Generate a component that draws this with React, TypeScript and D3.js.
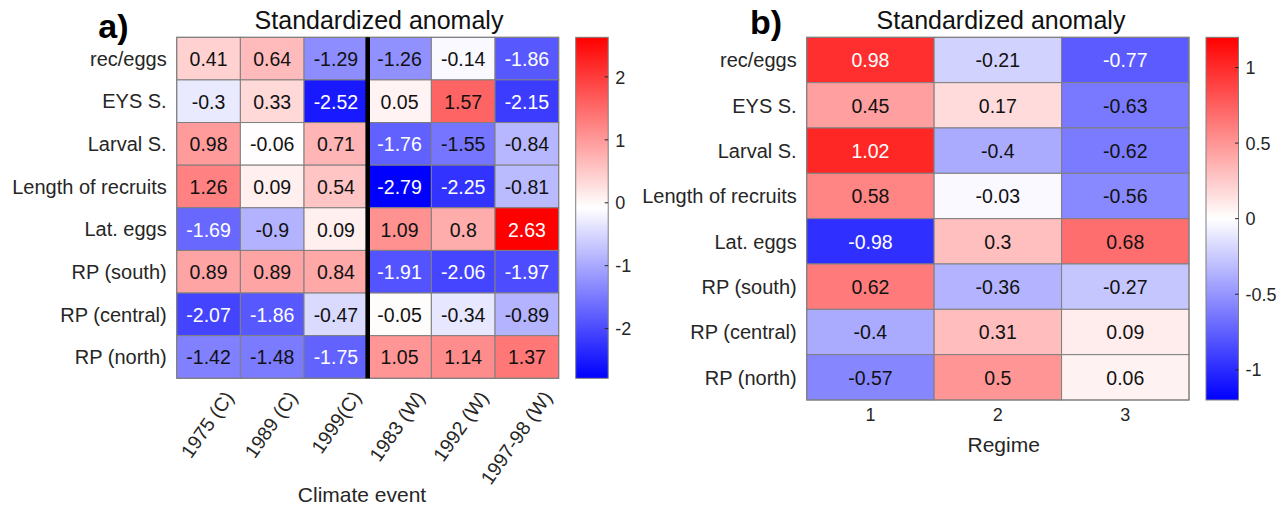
import React from "react";
import * as d3 from "d3";

const rowLabels = ["rec/eggs", "EYS S.", "Larval S.", "Length of recruits", "Lat. eggs", "RP (south)", "RP (central)", "RP (north)"];
const eventLabels = ["1975 (C)", "1989 (C)", "1999(C)", "1983 (W)", "1992 (W)", "1997-98 (W)"];
const eventValues = [
  [0.41, 0.64, -1.29, -1.26, -0.14, -1.86],
  [-0.3, 0.33, -2.52, 0.05, 1.57, -2.15],
  [0.98, -0.06, 0.71, -1.76, -1.55, -0.84],
  [1.26, 0.09, 0.54, -2.79, -2.25, -0.81],
  [-1.69, -0.9, 0.09, 1.09, 0.8, 2.63],
  [0.89, 0.89, 0.84, -1.91, -2.06, -1.97],
  [-2.07, -1.86, -0.47, -0.05, -0.34, -0.89],
  [-1.42, -1.48, -1.75, 1.05, 1.14, 1.37],
];
const eventTicks = [2, 1, 0, -1, -2];

const regimeLabels = ["1", "2", "3"];
const regimeValues = [
  [0.98, -0.21, -0.77],
  [0.45, 0.17, -0.63],
  [1.02, -0.4, -0.62],
  [0.58, -0.03, -0.56],
  [-0.98, 0.3, 0.68],
  [0.62, -0.36, -0.27],
  [-0.4, 0.31, 0.09],
  [-0.57, 0.5, 0.06],
];
const regimeColorLimits = [-1.2, 1.2];
const regimeTicks = [1, 0.5, 0, -0.5, -1];

const FONT = "'Liberation Sans', Arial, Helvetica, sans-serif";
const LABEL = "#262626";
const GRID = "#7f7f7f";

function makeColor(lo: number, hi: number) {
  const mid = (lo + hi) / 2;
  return d3.scaleLinear<string>().domain([lo, mid, hi]).range(["#0000ff", "#ffffff", "#ff0000"]).clamp(true);
}

function textColor(c: string) {
  const rgb = d3.rgb(c);
  const L = (0.2126 * rgb.r + 0.7152 * rgb.g + 0.0722 * rgb.b) / 255;
  return L < 0.48 ? "#ffffff" : "#111111";
}

type PanelProps = {
  id: string;
  cols: string[];
  values: number[][];
  limits: number[];
  ticks: number[];
  left: number;
  right: number;
  top: number;
  bottom: number;
  rotated: boolean;
  separatorAfter?: number;
};

function Panel(p: PanelProps) {
  const x = d3.scaleBand<string>().domain(p.cols).range([p.left, p.right]);
  const y = d3.scaleBand<string>().domain(rowLabels).range([p.top, p.bottom]);
  const color = makeColor(p.limits[0], p.limits[1]);
  const cbLeft = p.right + 17;
  const cbW = 32.5;
  const cy = d3.scaleLinear().domain(p.limits).range([p.bottom, p.top]);
  const gid = "grad-" + p.id;
  const stops = d3.range(0, 1.0001, 0.02);
  return (
    <g>
      <defs>
        <linearGradient id={gid} x1="0" y1="1" x2="0" y2="0">
          {stops.map((s, i) => (
            <stop key={i} offset={s} stopColor={color(p.limits[0] + s * (p.limits[1] - p.limits[0]))} />
          ))}
        </linearGradient>
      </defs>
      {p.values.map((row, ri) =>
        row.map((v, ci) => {
          const c = color(v);
          return (
            <g key={ri + "-" + ci}>
              <rect x={x(p.cols[ci])} y={y(rowLabels[ri])} width={x.bandwidth()} height={y.bandwidth()} fill={c} stroke={GRID} strokeWidth={1} />
              <text
                x={(x(p.cols[ci]) as number) + x.bandwidth() / 2}
                y={(y(rowLabels[ri]) as number) + y.bandwidth() / 2}
                dy="0.38em"
                textAnchor="middle"
                fontSize={19.5}
                fontFamily={FONT}
                fill={textColor(c)}
              >
                {String(v)}
              </text>
            </g>
          );
        })
      )}
      <rect x={p.left} y={p.top} width={p.right - p.left} height={p.bottom - p.top} fill="none" stroke={GRID} strokeWidth={1} />
      {p.separatorAfter !== undefined && (
        <rect
          x={(x(p.cols[p.separatorAfter]) as number) - 2.3}
          y={p.top}
          width={4.6}
          height={p.bottom - p.top}
          fill="#000"
        />
      )}
      {rowLabels.map((r) => (
        <text key={r} x={p.left - 10} y={(y(r) as number) + y.bandwidth() / 2} dy="0.36em" textAnchor="end" fontSize={20} fontFamily={FONT} fill={LABEL}>
          {r}
        </text>
      ))}
      {p.cols.map((c) => {
        const cx = (x(c) as number) + x.bandwidth() / 2;
        return p.rotated ? (
          <text key={c} transform={`translate(${cx + 26},${p.bottom + 19}) rotate(-55)`} textAnchor="end" fontSize={19.5} fontFamily={FONT} fill={LABEL}>
            {c}
          </text>
        ) : (
          <text key={c} x={cx} y={p.bottom + 20.5} textAnchor="middle" fontSize={18} fontFamily={FONT} fill={LABEL}>
            {c}
          </text>
        );
      })}
      <rect x={cbLeft} y={p.top} width={cbW} height={p.bottom - p.top} fill={`url(#${gid})`} stroke={GRID} strokeWidth={1} />
      {p.ticks.map((t) => (
        <g key={t}>
          <line x1={cbLeft + cbW - 3.5} x2={cbLeft + cbW} y1={cy(t)} y2={cy(t)} stroke={LABEL} strokeWidth={1} />
          <text x={cbLeft + cbW + 7} y={cy(t)} dy="0.37em" fontSize={18} fontFamily={FONT} fill={LABEL}>
            {String(t)}
          </text>
        </g>
      ))}
    </g>
  );
}

export default function App() {
  const aExtent = d3.extent(eventValues.flat()) as [number, number];
  return (
    <svg width={1284} height={507} style={{ position: "absolute", left: 0, top: 0, background: "#fff" }} fontFamily={FONT}>
      <rect x={0} y={0} width={1284} height={507} fill="#fff" />
      <text x={128.5} y={38} textAnchor="end" fontSize={34} fontWeight="bold" fill="#000">a)</text>
      <text x={379} y={28.5} textAnchor="middle" fontSize={25} fill="#111">Standardized anomaly</text>
      <Panel
        id="a"
        cols={eventLabels}
        values={eventValues}
        limits={aExtent}
        ticks={eventTicks}
        left={176.7}
        right={558.7}
        top={37.3}
        bottom={378.3}
        rotated={true}
        separatorAfter={3}
      />
      <text x={362} y={501.5} textAnchor="middle" fontSize={21} fill={LABEL}>Climate event</text>

      <text x={782} y={34} textAnchor="end" fontSize={34} fontWeight="bold" fill="#000">b)</text>
      <text x={1001} y={28.5} textAnchor="middle" fontSize={25} fill="#111">Standardized anomaly</text>
      <Panel
        id="b"
        cols={regimeLabels}
        values={regimeValues}
        limits={regimeColorLimits}
        ticks={regimeTicks}
        left={806.7}
        right={1189}
        top={37.3}
        bottom={400}
        rotated={false}
      />
      <text x={1003.7} y={451.5} textAnchor="middle" fontSize={21} fill={LABEL}>Regime</text>
    </svg>
  );
}
